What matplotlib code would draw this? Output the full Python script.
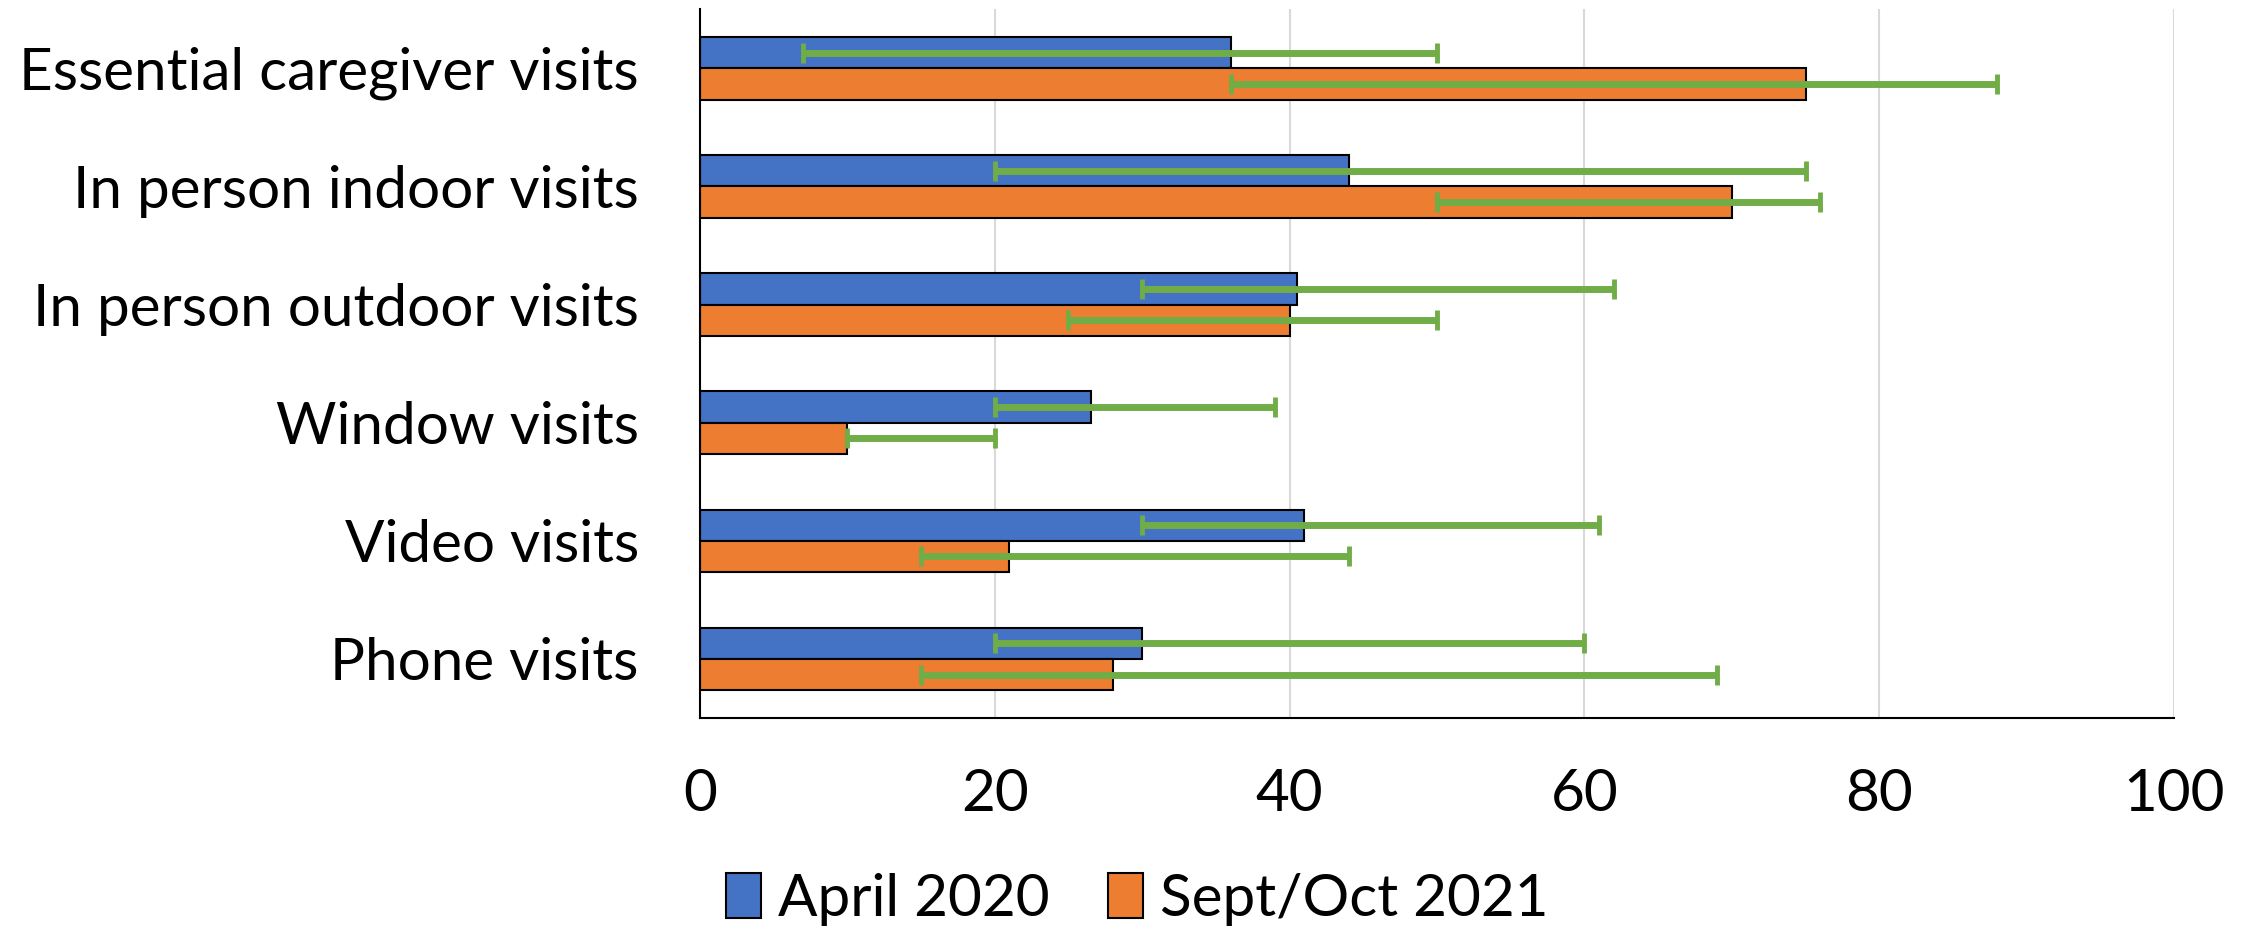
import matplotlib.pyplot as plt
import numpy as np

categories = ['Essential caregiver visits', 'In person indoor visits', 'In person outdoor visits',
              'Window visits', 'Video visits', 'Phone visits']
april_2020 = [36, 44, 40.5, 26.5, 41, 30]
april_low = [7, 20, 30, 20, 30, 20]
april_high = [50, 75, 62, 39, 61, 60]
sept_2021 = [75, 70, 40, 10, 21, 28]
sept_low = [36, 50, 25, 10, 15, 15]
sept_high = [88, 76, 50, 20, 44, 69]

plt.rcParams['font.family'] = ['Lato', 'DejaVu Sans']

fig = plt.figure(figsize=(22.52, 9.32), dpi=100)
ax = fig.add_axes([0.3108, 0.2296, 0.6546, 0.7604])

y = np.arange(len(categories))
h = 0.265
a = np.array(april_2020)
s = np.array(sept_2021)
a_err = [a - np.array(april_low), np.array(april_high) - a]
s_err = [s - np.array(sept_low), np.array(sept_high) - s]

ax.barh(y - h / 2, a, height=h, color='#4472C4', edgecolor='black', linewidth=1.5,
        label='April 2020', zorder=2)
ax.barh(y + h / 2, s, height=h, color='#ED7D31', edgecolor='black', linewidth=1.5,
        label='Sept/Oct 2021', zorder=2)
err_kw = dict(fmt='none', ecolor='#70AD47', elinewidth=5, capsize=7, capthick=3.5, zorder=3)
ax.errorbar(a, y - h / 2, xerr=a_err, **err_kw)
ax.errorbar(s, y + h / 2, xerr=s_err, **err_kw)

ax.set_xlim(0, 100)
ax.set_ylim(len(categories) - 0.5, -0.5)
ax.set_xticks(np.arange(0, 101, 20))
ax.set_yticks(y)
ax.set_yticklabels(categories)
ax.tick_params(axis='both', length=0, labelsize=42)
ax.tick_params(axis='y', pad=44)
ax.tick_params(axis='x', pad=36)
ax.grid(axis='x', color='#D9D9D9', linewidth=1.5, zorder=0)
ax.set_axisbelow(True)
for side in ['top', 'right']:
    ax.spines[side].set_visible(False)
ax.spines['left'].set_linewidth(1.5)
ax.spines['bottom'].set_linewidth(1.5)

fig.legend(loc='center', bbox_to_anchor=(0.505, 0.035), ncol=2, frameon=False, fontsize=42,
           handlelength=0.6, handleheight=0.8, handletextpad=0.3, columnspacing=1.0)

fig.savefig('out.png', dpi=100)
